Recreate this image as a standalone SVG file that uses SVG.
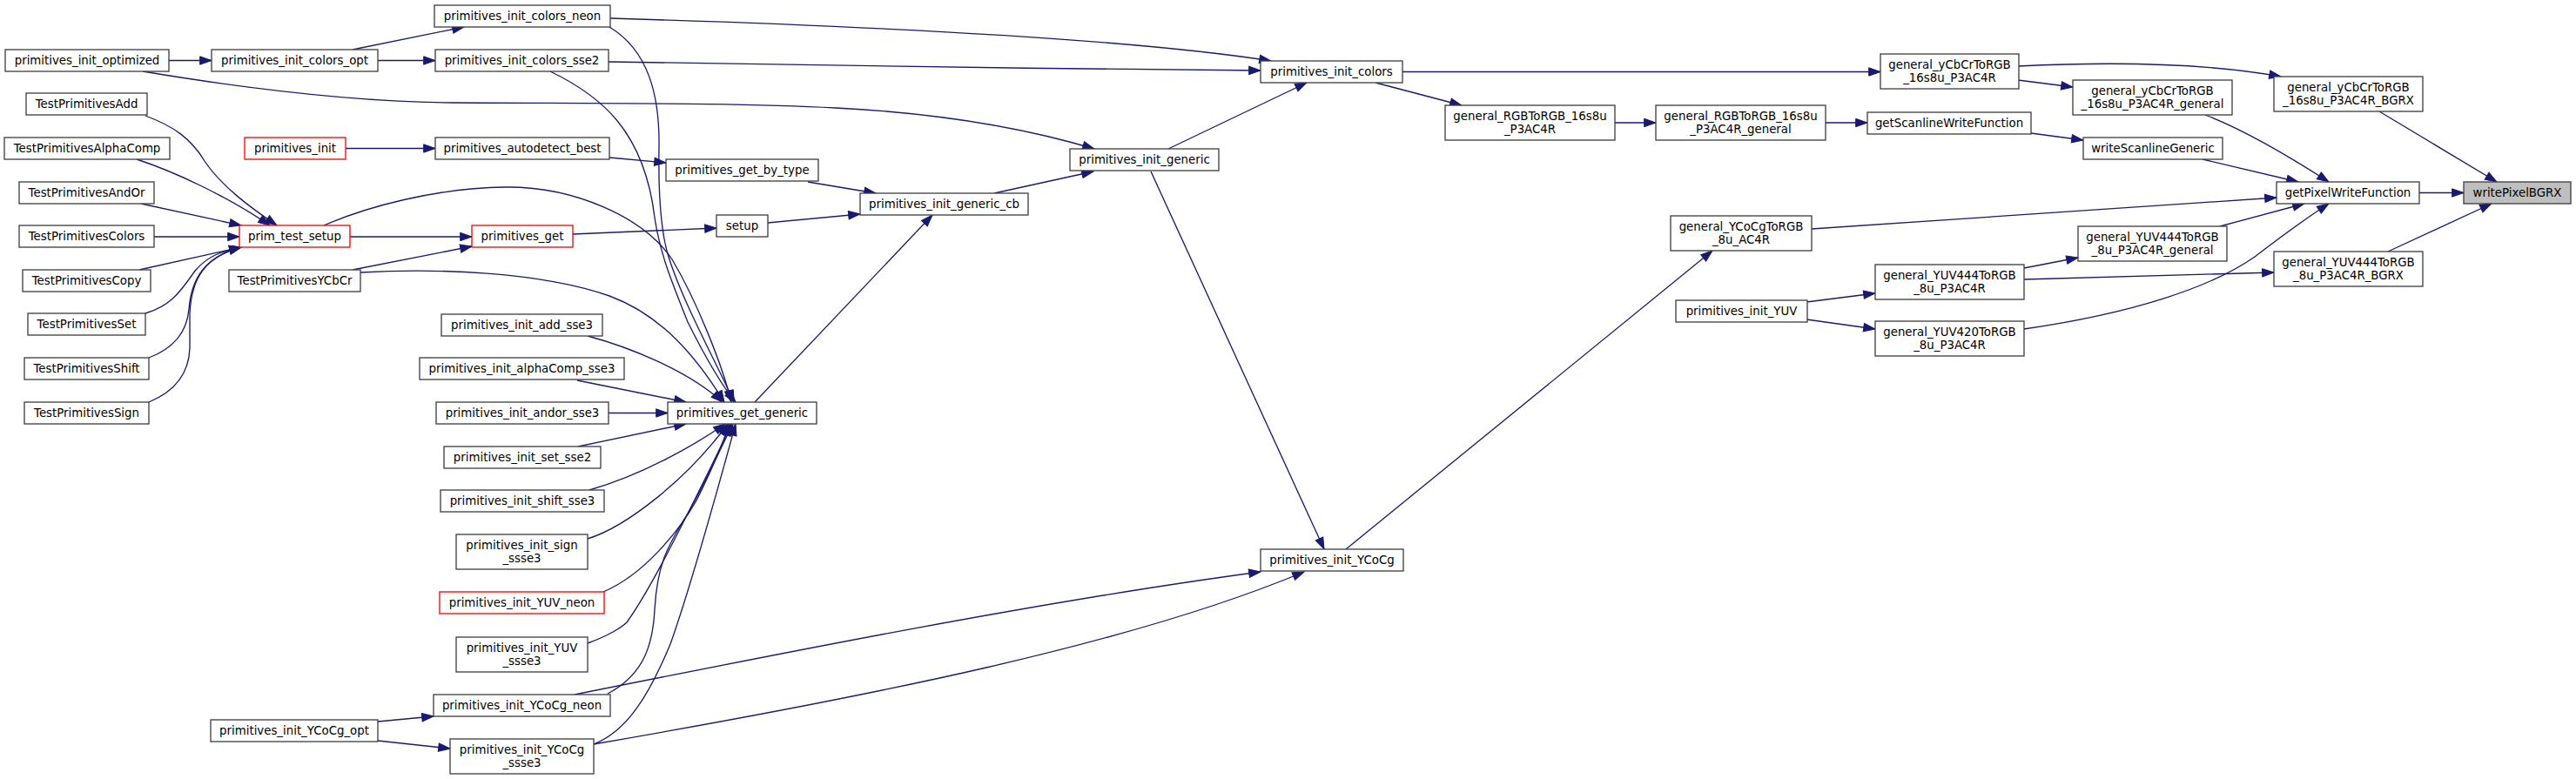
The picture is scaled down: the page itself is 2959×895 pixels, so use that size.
<svg xmlns="http://www.w3.org/2000/svg" width="2959" height="895" viewBox="0 0 2959 895">
<defs>
<marker id="a" markerUnits="userSpaceOnUse" markerWidth="14" markerHeight="10" refX="13.3" refY="4.7" orient="auto" overflow="visible">
<path d="M0,0 L13.3,4.7 L0,9.4 Z" fill="#191970" stroke="#191970" stroke-width="1"/>
</marker>
<style>
.n rect{fill:#ffffff;stroke:#404040;stroke-width:1.33}
.n.r rect{stroke:#ff0000}
.n.root rect{fill:#bfbfbf;stroke:#404040}
.n text{font-family:"DejaVu Sans","Liberation Sans",sans-serif;font-size:13.33px;text-anchor:middle;fill:#000000}
#edges path{fill:none;stroke:#191970;stroke-width:1.33;marker-end:url(#a)}
</style>
</defs>
<rect x="0" y="0" width="2959" height="895" fill="#ffffff"/>
<g id="edges">
<path d="M194,69.5 L243,69.5"/>
<path d="M164,82 C260,98 400,117 520,118 C700,119 850,118 960,124 C1080,130 1180,148 1257,171"/>
<path d="M405,57 L533,31"/>
<path d="M434,69.5 L500,69.5"/>
<path d="M701,21 C1000,30 1300,45 1460,70"/>
<path d="M699,71 C900,73 1200,80 1448,81"/>
<path d="M700,31 C745,58 758,110 757,170 C756,230 760,270 768,295 C785,350 830,430 843,462"/>
<path d="M632,82 C690,110 740,150 752,250 C758,290 770,320 790,370 C815,420 835,450 845,462"/>
<path d="M372,259 C420,238 500,216 580,215 C660,214 740,250 772,298 C800,345 830,420 840,462"/>
<path d="M414,313 C500,308 620,312 700,340 C760,362 800,410 832,462"/>
<path d="M405,310 L542,283"/>
<path d="M402,272 L542,272"/>
<path d="M658,269 L823,262"/>
<path d="M882,256 L988,246"/>
<path d="M397,170.5 L500,170.5"/>
<path d="M700,181 L765,187"/>
<path d="M928,209 L1006,222"/>
<path d="M867,462 L1071,247"/>
<path d="M1142,222 L1256,197"/>
<path d="M1342,171 L1501,95"/>
<path d="M1322,197 L1521,631"/>
<path d="M1546,631 L1967,288"/>
<path d="M660,798 C900,750 1200,690 1448,657"/>
<path d="M682,855 C1000,800 1300,740 1498,657"/>
<path d="M434,829 L498,823"/>
<path d="M434,851 L517,860"/>
<path d="M675,386 C720,398 790,425 830,462"/>
<path d="M663,437 L788,462"/>
<path d="M699,474.5 L767,474.5"/>
<path d="M664,513 L788,487"/>
<path d="M677,563 C740,545 800,510 833,487"/>
<path d="M675,619 C720,605 790,550 836,487"/>
<path d="M693,680 C740,660 780,610 800,575 C815,545 830,510 838,487"/>
<path d="M675,739 C700,730 715,720 720,715 C745,680 775,620 800,570 C815,540 832,505 840,487"/>
<path d="M698,797 C740,775 750,740 752,700 C755,650 765,630 790,590 C810,555 830,510 842,487"/>
<path d="M682,855 C720,840 745,800 770,740 C795,670 825,560 845,487"/>
<path d="M1611,82.5 L2160,82.5"/>
<path d="M1580,95 L1679,121"/>
<path d="M1855,141 L1902,141"/>
<path d="M2097,141 L2145,141"/>
<path d="M2333,153 L2393,161"/>
<path d="M2530,183 L2640,209"/>
<path d="M2318,92 L2381,100"/>
<path d="M2318,76 C2400,72 2520,70 2620,88"/>
<path d="M2533,132 C2580,150 2630,180 2675,209"/>
<path d="M2733,128 L2868,209"/>
<path d="M2779,221.5 L2830,221.5"/>
<path d="M2743,289 L2862,234"/>
<path d="M2081,263 L2615,227"/>
<path d="M2550,260 L2647,234"/>
<path d="M2325,378 C2450,360 2540,330 2590,295 C2620,272 2650,250 2675,234"/>
<path d="M2325,321 L2612,313"/>
<path d="M2325,308 L2387,296"/>
<path d="M2075,347 L2154,337"/>
<path d="M2075,367 L2154,378"/>
<path d="M167,133 C200,145 220,160 235,185 C255,215 290,240 318,259"/>
<path d="M157,183 C200,197 260,225 310,259"/>
<path d="M162,234 L277,259"/>
<path d="M177,272 L275,272"/>
<path d="M160,310 L277,284"/>
<path d="M167,360 C200,350 210,330 225,310 C240,293 255,289 277,284"/>
<path d="M171,411 C200,400 215,380 217,355 C220,320 235,295 277,284"/>
<path d="M171,462 C200,450 217,430 218,400 L218,360 C220,320 235,295 277,284"/>
</g>
<g id="n_primitives_init_optimized" class="n"><rect x="6" y="57" width="188" height="25"/><text x="100" y="74">primitives_init_optimized</text></g>
<g id="n_primitives_init_colors_opt" class="n"><rect x="243" y="57" width="191" height="25"/><text x="338.5" y="74">primitives_init_colors_opt</text></g>
<g id="n_TestPrimitivesAdd" class="n"><rect x="30" y="107" width="139" height="25"/><text x="99.5" y="124">TestPrimitivesAdd</text></g>
<g id="n_TestPrimitivesAlphaComp" class="n"><rect x="5" y="158" width="190" height="25"/><text x="100" y="175">TestPrimitivesAlphaComp</text></g>
<g id="n_primitives_init" class="n r"><rect x="281" y="158" width="116" height="25"/><text x="339" y="175">primitives_init</text></g>
<g id="n_TestPrimitivesAndOr" class="n"><rect x="22" y="209" width="155" height="25"/><text x="99.5" y="226">TestPrimitivesAndOr</text></g>
<g id="n_TestPrimitivesColors" class="n"><rect x="22" y="259" width="155" height="25"/><text x="99.5" y="276">TestPrimitivesColors</text></g>
<g id="n_prim_test_setup" class="n r"><rect x="275" y="259" width="127" height="25"/><text x="338.5" y="276">prim_test_setup</text></g>
<g id="n_TestPrimitivesCopy" class="n"><rect x="26" y="310" width="147" height="25"/><text x="99.5" y="327">TestPrimitivesCopy</text></g>
<g id="n_TestPrimitivesYCbCr" class="n"><rect x="263" y="310" width="151" height="25"/><text x="338.5" y="327">TestPrimitivesYCbCr</text></g>
<g id="n_TestPrimitivesSet" class="n"><rect x="32" y="360" width="135" height="25"/><text x="99.5" y="377">TestPrimitivesSet</text></g>
<g id="n_TestPrimitivesShift" class="n"><rect x="28" y="411" width="143" height="25"/><text x="99.5" y="428">TestPrimitivesShift</text></g>
<g id="n_TestPrimitivesSign" class="n"><rect x="28" y="462" width="143" height="25"/><text x="99.5" y="479">TestPrimitivesSign</text></g>
<g id="n_primitives_init_YCoCg_opt" class="n"><rect x="242" y="827" width="192" height="25"/><text x="338" y="844">primitives_init_YCoCg_opt</text></g>
<g id="n_primitives_init_colors_neon" class="n"><rect x="499" y="6" width="202" height="25"/><text x="600" y="23">primitives_init_colors_neon</text></g>
<g id="n_primitives_init_colors_sse2" class="n"><rect x="500" y="57" width="199" height="25"/><text x="599.5" y="74">primitives_init_colors_sse2</text></g>
<g id="n_primitives_autodetect_best" class="n"><rect x="500" y="158" width="200" height="25"/><text x="600" y="175">primitives_autodetect_best</text></g>
<g id="n_primitives_get" class="n r"><rect x="542" y="259" width="116" height="25"/><text x="600" y="276">primitives_get</text></g>
<g id="n_primitives_init_add_sse3" class="n"><rect x="507" y="361" width="185" height="25"/><text x="599.5" y="378">primitives_init_add_sse3</text></g>
<g id="n_primitives_init_alphaComp_sse3" class="n"><rect x="482" y="411" width="235" height="25"/><text x="599.5" y="428">primitives_init_alphaComp_sse3</text></g>
<g id="n_primitives_init_andor_sse3" class="n"><rect x="501" y="462" width="198" height="25"/><text x="600" y="479">primitives_init_andor_sse3</text></g>
<g id="n_primitives_init_set_sse2" class="n"><rect x="510" y="513" width="180" height="25"/><text x="600" y="530">primitives_init_set_sse2</text></g>
<g id="n_primitives_init_shift_sse3" class="n"><rect x="506" y="563" width="188" height="25"/><text x="600" y="580">primitives_init_shift_sse3</text></g>
<g id="n_primitives_init_sign_ssse3" class="n"><rect x="524" y="614" width="151" height="40"/><text><tspan x="599.5" y="631">primitives_init_sign</tspan><tspan x="599.5" y="645.5">_ssse3</tspan></text></g>
<g id="n_primitives_init_YUV_neon" class="n r"><rect x="505" y="680" width="189" height="25"/><text x="599.5" y="697">primitives_init_YUV_neon</text></g>
<g id="n_primitives_init_YUV_ssse3" class="n"><rect x="524" y="732" width="151" height="40"/><text><tspan x="599.5" y="749">primitives_init_YUV</tspan><tspan x="599.5" y="763.5">_ssse3</tspan></text></g>
<g id="n_primitives_init_YCoCg_neon" class="n"><rect x="498" y="798" width="203" height="25"/><text x="599.5" y="815">primitives_init_YCoCg_neon</text></g>
<g id="n_primitives_init_YCoCg_ssse3" class="n"><rect x="517" y="849" width="165" height="40"/><text><tspan x="599.5" y="866">primitives_init_YCoCg</tspan><tspan x="599.5" y="880.5">_ssse3</tspan></text></g>
<g id="n_primitives_get_by_type" class="n"><rect x="765" y="183" width="175" height="25"/><text x="852.5" y="200">primitives_get_by_type</text></g>
<g id="n_setup" class="n"><rect x="823" y="247" width="59" height="25"/><text x="852.5" y="264">setup</text></g>
<g id="n_primitives_get_generic" class="n"><rect x="767" y="462" width="171" height="25"/><text x="852.5" y="479">primitives_get_generic</text></g>
<g id="n_primitives_init_generic_cb" class="n"><rect x="988" y="222" width="193" height="25"/><text x="1084.5" y="239">primitives_init_generic_cb</text></g>
<g id="n_primitives_init_generic" class="n"><rect x="1229" y="171" width="171" height="25"/><text x="1314.5" y="188">primitives_init_generic</text></g>
<g id="n_primitives_init_colors" class="n"><rect x="1448" y="70" width="163" height="25"/><text x="1529.5" y="87">primitives_init_colors</text></g>
<g id="n_primitives_init_YCoCg" class="n"><rect x="1448" y="631" width="164" height="25"/><text x="1530" y="648">primitives_init_YCoCg</text></g>
<g id="n_general_RGBToRGB_16s8u_P3AC4R" class="n"><rect x="1660" y="121" width="195" height="40"/><text><tspan x="1757.5" y="138">general_RGBToRGB_16s8u</tspan><tspan x="1757.5" y="152.5">_P3AC4R</tspan></text></g>
<g id="n_general_RGBToRGB_16s8u_P3AC4R_general" class="n"><rect x="1902" y="121" width="195" height="40"/><text><tspan x="1999.5" y="138">general_RGBToRGB_16s8u</tspan><tspan x="1999.5" y="152.5">_P3AC4R_general</tspan></text></g>
<g id="n_general_YCoCgToRGB_8u_AC4R" class="n"><rect x="1919" y="248" width="162" height="40"/><text><tspan x="2000" y="265">general_YCoCgToRGB</tspan><tspan x="2000" y="279.5">_8u_AC4R</tspan></text></g>
<g id="n_primitives_init_YUV" class="n"><rect x="1925" y="345" width="151" height="25"/><text x="2000.5" y="362">primitives_init_YUV</text></g>
<g id="n_general_yCbCrToRGB_16s8u_P3AC4R" class="n"><rect x="2160" y="62" width="159" height="40"/><text><tspan x="2239.5" y="79">general_yCbCrToRGB</tspan><tspan x="2239.5" y="93.5">_16s8u_P3AC4R</tspan></text></g>
<g id="n_getScanlineWriteFunction" class="n"><rect x="2145" y="129" width="188" height="25"/><text x="2239" y="146">getScanlineWriteFunction</text></g>
<g id="n_general_YUV444ToRGB_8u_P3AC4R" class="n"><rect x="2154" y="304" width="171" height="40"/><text><tspan x="2239.5" y="321">general_YUV444ToRGB</tspan><tspan x="2239.5" y="335.5">_8u_P3AC4R</tspan></text></g>
<g id="n_general_YUV420ToRGB_8u_P3AC4R" class="n"><rect x="2154" y="369" width="171" height="40"/><text><tspan x="2239.5" y="386">general_YUV420ToRGB</tspan><tspan x="2239.5" y="400.5">_8u_P3AC4R</tspan></text></g>
<g id="n_general_yCbCrToRGB_16s8u_P3AC4R_general" class="n"><rect x="2381" y="92" width="183" height="40"/><text><tspan x="2472.5" y="109">general_yCbCrToRGB</tspan><tspan x="2472.5" y="123.5">_16s8u_P3AC4R_general</tspan></text></g>
<g id="n_writeScanlineGeneric" class="n"><rect x="2393" y="158" width="160" height="25"/><text x="2473" y="175">writeScanlineGeneric</text></g>
<g id="n_general_YUV444ToRGB_8u_P3AC4R_general" class="n"><rect x="2387" y="260" width="171" height="40"/><text><tspan x="2472.5" y="277">general_YUV444ToRGB</tspan><tspan x="2472.5" y="291.5">_8u_P3AC4R_general</tspan></text></g>
<g id="n_general_yCbCrToRGB_16s8u_P3AC4R_BGRX" class="n"><rect x="2612" y="88" width="171" height="40"/><text><tspan x="2697.5" y="105">general_yCbCrToRGB</tspan><tspan x="2697.5" y="119.5">_16s8u_P3AC4R_BGRX</tspan></text></g>
<g id="n_getPixelWriteFunction" class="n"><rect x="2615" y="209" width="164" height="25"/><text x="2697" y="226">getPixelWriteFunction</text></g>
<g id="n_general_YUV444ToRGB_8u_P3AC4R_BGRX" class="n"><rect x="2612" y="289" width="171" height="40"/><text><tspan x="2697.5" y="306">general_YUV444ToRGB</tspan><tspan x="2697.5" y="320.5">_8u_P3AC4R_BGRX</tspan></text></g>
<g id="n_writePixelBGRX" class="n root"><rect x="2830" y="209" width="123" height="25"/><text x="2891.5" y="226">writePixelBGRX</text></g>
</svg>
